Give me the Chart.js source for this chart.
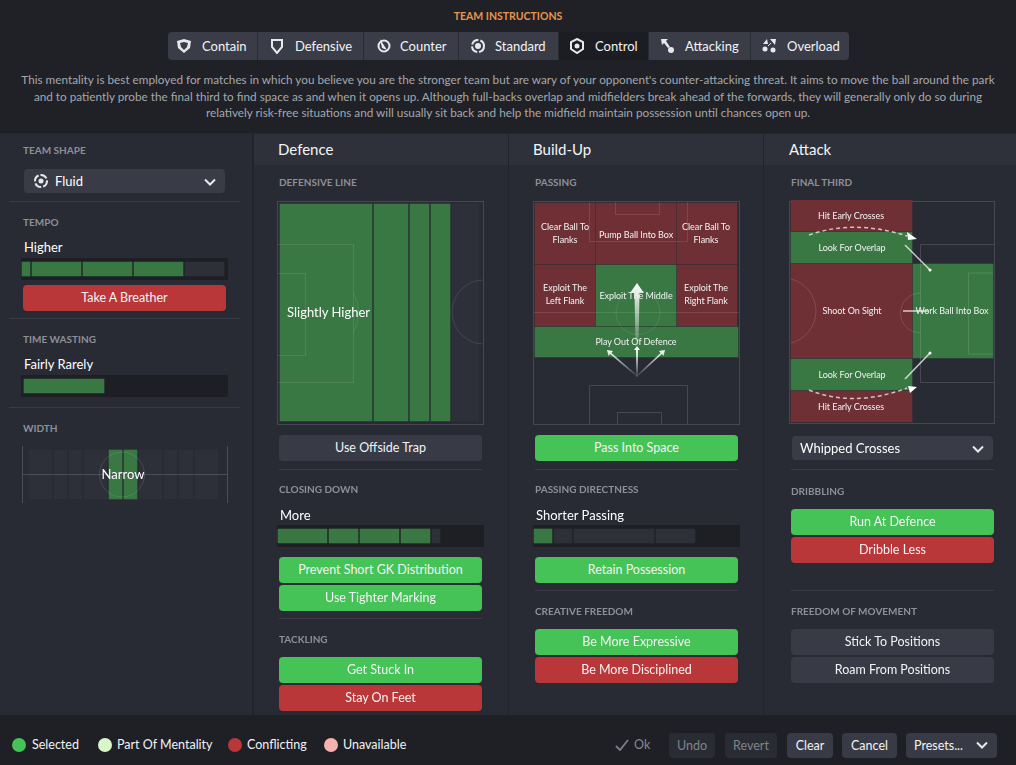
<!DOCTYPE html>
<html>
<head>
<meta charset="utf-8">
<title>Team Instructions</title>
<script src="https://cdn.jsdelivr.net/npm/chart.js@4"></script>
<style>
html, body { margin: 0; padding: 0; background: #1f2126; }
body { width: 1016px; height: 765px; overflow: hidden; position: relative; font-family: Lato, "Open Sans", sans-serif; color: #f2f3f5; }
.box, .txt, canvas, svg { position: absolute; display: block; }
.txt { white-space: nowrap; line-height: 16px; }
.sec { font-size: 10px; font-weight: 700; color: #8d9098; letter-spacing: 0; }
.val { font-size: 13px; color: #fff; }
.btn { position: absolute; border-radius: 4px; text-align: center; font-size: 12.5px; box-sizing: border-box; }
.zone { position: absolute; text-align: center; font-size: 9px; letter-spacing: -0.05px; line-height: 13px; color: #f1f3f2; transform: translate(-50%, -50%); white-space: nowrap; }
</style>
</head>
<body>
<script>
// slider values, in px of each 207 wide track
const tempoLabels = ['Lowest', 'Lower', 'Standard', 'Higher', 'Highest'];
const tempoStart = [1, 11, 62, 113, 164];
const tempoEnd = [9, 60, 111, 162, 203];
const tempoOn = [true, true, true, true, false];

const timeWastingStart = [3];
const timeWastingEnd = [83];
const timeWastingOn = [true];

const closingStart = [1, 52, 83, 124, 155];
const closingEnd = [50, 81, 122, 153, 163];
const closingOn = [true, true, true, true, false];

const directnessStart = [1, 21, 41, 123];
const directnessEnd = [19, 39, 121, 162];
const directnessOn = [true, false, false, false];

const widthStart = [7, 32, 47, 62, 87, 102, 117, 142, 157, 173];
const widthEnd = [30, 45, 60, 85, 100, 115, 140, 155, 171, 196];
const widthOn = [false, false, false, false, true, true, false, false, false, false];

const lineStart = [3, 97, 133, 154, 175];
const lineEnd = [95, 131, 152, 173, 202];
const lineOn = [true, true, true, true, false];

const passingZones = ['Clear Ball To<br>Flanks', 'Pump Ball Into Box', 'Clear Ball To<br>Flanks', 'Exploit The<br>Left Flank', 'Exploit The Middle', 'Exploit The<br>Right Flank', 'Play Out Of Defence'];
const passingFrom = [2, 63, 144, 2, 63, 144, 2];
const passingTo = [62, 143, 204, 62, 143, 204, 205];
const passingTop = [2, 2, 2, 64, 64, 64, 126];
const passingBottom = [63, 63, 63, 125, 125, 125, 156];
const passingOn = [false, false, false, false, true, false, true];

const finalZones = ['Hit Early Crosses', 'Look For Overlap', 'Shoot On Sight', 'Work Ball Into Box', 'Look For Overlap', 'Hit Early Crosses'];
const finalFrom = [2, 2, 2, 124, 2, 2];
const finalTo = [123, 123, 123, 204, 123, 123];
const finalTop = [0, 32, 64, 64, 159, 191];
const finalBottom = [31, 63, 158, 158, 190, 222];
const finalOn = [false, true, false, true, true, false];

const mentalities = ['Contain', 'Defensive', 'Counter', 'Standard', 'Control', 'Attacking', 'Overload'];
const legendNames = ['Selected', 'Part Of Mentality', 'Conflicting', 'Unavailable'];

const GREEN = '#397743', RED = '#6f3035', IDLE = '#2e3039', TRACK = '#1d1f24';
const BTN = { green: '#46c357', red: '#b93639', grey: '#383b45' };

function box(x, y, w, h, bg, extra) {
    const d = document.createElement('div');
    d.className = 'box';
    d.style.cssText = `left:${x}px;top:${y}px;width:${w}px;height:${h}px;background:${bg};${extra || ''}`;
    document.body.appendChild(d);
    return d;
}

function text(str, x, y, cls, extra) {
    const d = document.createElement('div');
    d.className = 'txt ' + (cls || '');
    d.style.cssText = `left:${x}px;top:${y - 8}px;${extra || ''}`;
    d.innerHTML = str;
    document.body.appendChild(d);
    return d;
}

function button(str, x, y, w, h, kind, extra) {
    const d = document.createElement('div');
    d.className = 'btn';
    d.style.cssText = `left:${x}px;top:${y}px;width:${w}px;height:${h}px;line-height:${h}px;background:${BTN[kind]};${extra || ''}`;
    d.textContent = str;
    document.body.appendChild(d);
    return d;
}

function chevron(x, y) {
    svg(x, y, 12, 8, '<path d="M1 1.5 L6 6.5 L11 1.5" fill="none" stroke="#e8e9ec" stroke-width="2"/>');
}

function svg(x, y, w, h, inner) {
    const s = document.createElementNS('http://www.w3.org/2000/svg', 'svg');
    s.setAttribute('width', w);
    s.setAttribute('height', h);
    s.setAttribute('viewBox', `0 0 ${w} ${h}`);
    s.style.left = x + 'px';
    s.style.top = y + 'px';
    s.innerHTML = inner;
    document.body.appendChild(s);
    return s;
}

// every bar on the page goes through here: floating horizontal bars on two linear scales
function rangeChart(x, y, w, h, bg, from, to, top, bottom, colors) {
    const c = document.createElement('canvas');
    c.style.cssText = `left:${x}px;top:${y}px;width:${w}px;height:${h}px;background:${bg};`;
    c.width = w;
    c.height = h;
    document.body.appendChild(c);
    new Chart(c, {
        type: 'bar',
        data: {
            datasets: from.map((f, i) => ({
                data: [{ x: [f, to[i]], y: (top[i] + bottom[i]) / 2 }],
                backgroundColor: colors[i],
                barThickness: bottom[i] - top[i],
                grouped: false,
                borderWidth: 0
            }))
        },
        options: {
            indexAxis: 'y',
            responsive: false,
            animation: false,
            layout: { padding: 0 },
            plugins: { legend: { display: false }, tooltip: { enabled: false } },
            scales: {
                x: { type: 'linear', min: 0, max: w, display: false },
                // bar charts switch offset on for the index axis, which squeezes a linear scale
                y: { type: 'linear', min: 0, max: h, reverse: true, offset: false, display: false }
            }
        }
    });
}

function slider(x, y, start, end, on) {
    const tops = start.map(() => 4);
    const bottoms = start.map(() => 18);
    rangeChart(x, y, 207, 22, TRACK, start, end, tops, bottoms, on.map(o => o ? GREEN : IDLE));
}

// panels
box(0, 133, 1016, 582, '#282b34');
box(254, 133, 762, 32, '#2e313a');
box(252, 133, 2, 582, '#22242b');
box(508, 133, 1, 582, '#22242b');
box(763, 133, 1, 582, '#22242b');
box(0, 715, 1016, 50, '#1e2025');
box(0, 133, 1016, 1, '#25272d');

// header
text('TEAM INSTRUCTIONS', 0, 16, '', 'width:1016px;text-align:center;font-size:10.5px;font-weight:700;color:#e8954b;');
box(168, 32, 681, 28, '#3a3d48', 'border-radius:4px;');
const tabEdges = [168, 258, 364, 459, 559, 649, 751, 849];
const tabText = [202, 295, 400, 495, 595, 685, 787];
const tabIcon = [184, 277, 384, 478, 577, 667, 769];
const tabGlyph = [
    '<path d="M8 1 L15 3 L14 10 L8 15 L2 10 L1 3 Z" fill="#e8e9ec"/><path d="M8 4 L12 5 L11 9 L8 12 L5 9 L4 5 Z" fill="#3a3d48"/>',
    '<path d="M3 2 L13 2 L13 9 L8 15 L3 9 Z" fill="none" stroke="#e8e9ec" stroke-width="2"/>',
    '<circle cx="8" cy="8" r="5.5" fill="none" stroke="#e8e9ec" stroke-width="2"/><path d="M4 1 L11 12 L6 10 Z" fill="#e8e9ec"/>',
    '<circle cx="8" cy="8" r="6" fill="none" stroke="#e8e9ec" stroke-width="2" stroke-dasharray="8 2"/><circle cx="8" cy="8" r="3" fill="#e8e9ec"/>',
    '<path d="M8 1 L14 4 L14 11 L8 15 L2 11 L2 4 Z" fill="none" stroke="#e8e9ec" stroke-width="2"/><circle cx="8" cy="8" r="2.5" fill="#e8e9ec"/>',
    '<path d="M2 1 L9 1 L7 3 L11 9 L9 10 L5 5 L3 7 Z" fill="#e8e9ec"/><circle cx="12" cy="12" r="3" fill="#e8e9ec"/>',
    '<circle cx="4" cy="11" r="2.5" fill="#e8e9ec"/><circle cx="12" cy="12" r="2.5" fill="#e8e9ec"/><path d="M2 6 L6 1 L7 6 Z M9 1 L15 1 L14 7 Z" fill="#e8e9ec"/><path d="M7 8 L10 5" stroke="#e8e9ec"/>'
];
mentalities.forEach((m, i) => {
    if (m === 'Control') box(tabEdges[i], 32, tabEdges[i + 1] - tabEdges[i], 28, '#1c1d22');
    if (i > 0) box(tabEdges[i] - 1, 32, 1, 28, '#2a2c34');
    text(m, tabText[i], 45.5, '', 'font-size:13px;color:#f2f3f5;');
    svg(tabIcon[i] - 8, 38, 16, 16, tabGlyph[i]);
});
const descLines = [
    "This mentality is best employed for matches in which you believe you are the stronger team but are wary of your opponent's counter-attacking threat. It aims to move the ball around the park",
    'and to patiently probe the final third to find space as and when it opens up. Although full-backs overlap and midfielders break ahead of the forwards, they will generally only do so during',
    'relatively risk-free situations and will usually sit back and help the midfield maintain possession until chances open up.'
];
const descY = [80, 97, 113];
descLines.forEach((l, i) => text(l, 0, descY[i], '', 'width:1016px;text-align:center;font-size:11.75px;color:#a4a8ae;'));

// left column
text('TEAM SHAPE', 23, 150, 'sec');
box(24, 169, 201, 24, '#393c47', 'border-radius:4px;');
svg(33, 173, 16, 16, '<circle cx="8" cy="8" r="6" fill="none" stroke="#e8e9ec" stroke-width="2" stroke-dasharray="7 2"/><circle cx="8" cy="8" r="2.5" fill="#e8e9ec"/>');
text('Fluid', 55, 181, 'val');
chevron(204, 178);
box(9, 201, 231, 1, '#383b45');
text('TEMPO', 23, 222, 'sec');
text('Higher', 24, 247, 'val');
slider(21, 258, tempoStart, tempoEnd, tempoOn);
button('Take A Breather', 23, 285, 203, 26, 'red');
box(9, 318, 231, 1, '#383b45');
text('TIME WASTING', 23, 339, 'sec');
text('Fairly Rarely', 24, 364, 'val');
slider(21, 375, timeWastingStart, timeWastingEnd, timeWastingOn);
box(9, 407, 231, 1, '#383b45');
text('WIDTH', 23, 428, 'sec');
rangeChart(22, 446, 206, 58, 'transparent', widthStart, widthEnd, widthStart.map(() => 4), widthStart.map(() => 53), widthOn.map(o => o ? GREEN : IDLE));
svg(22, 446, 206, 58, '<path d="M0.5 0 V57 M205.5 0 V57 M0 28.5 H206" stroke="#4a4d58" fill="none"/><circle cx="100" cy="28.5" r="22.5" fill="none" stroke="rgba(255,255,255,.12)"/>');
text('Narrow', 0, 474, 'val', 'left:22px;width:202px;text-align:center;');

// defence column
text('Defence', 278, 148.5, '', 'font-size:15px;color:#f4f5f6;');
text('DEFENSIVE LINE', 279, 182, 'sec');
const lineTop = lineStart.map(() => 3);
const lineBottom = lineStart.map(() => 220);
rangeChart(277, 201, 207, 224, 'transparent', lineStart, lineEnd, lineTop, lineBottom, lineOn.map(o => o ? GREEN : IDLE));
svg(277, 201, 207, 224, `<g fill="none" stroke="rgba(255,255,255,.11)">
<path d="M0 43.5 H76.5 V181.5 H0 M0 72.5 H28.5 V154.5 H0 M76.5 92 A 40 40 0 0 1 76.5 131"/><path d="M207 79 A 32 32 0 0 0 207 143"/></g>
<rect x=".5" y=".5" width="206" height="223" fill="none" stroke="#454853"/>`);
text('Slightly Higher', 287, 312, 'val');
button('Use Offside Trap', 279, 435, 203, 26, 'grey');
box(279, 469, 203, 1, '#383b45');
text('CLOSING DOWN', 279, 489, 'sec');
text('More', 280, 515, 'val');
slider(277, 525, closingStart, closingEnd, closingOn);
button('Prevent Short GK Distribution', 279, 557, 203, 26, 'green');
button('Use Tighter Marking', 279, 585, 203, 26, 'green');
box(279, 618, 203, 1, '#383b45');
text('TACKLING', 279, 639, 'sec');
button('Get Stuck In', 279, 657, 203, 26, 'green');
button('Stay On Feet', 279, 685, 203, 26, 'red');

// build-up column
text('Build-Up', 533, 148.5, '', 'font-size:15px;color:#f4f5f6;');
text('PASSING', 535, 182, 'sec');
rangeChart(533, 201, 207, 224, 'transparent', passingFrom, passingTo, passingTop, passingBottom, passingOn.map(o => o ? GREEN : RED));
svg(533, 201, 207, 224, `<defs><linearGradient id="up" x1="0" y1="1" x2="0" y2="0"><stop offset="0" stop-color="#fff" stop-opacity=".1"/><stop offset="1" stop-color="#fff"/></linearGradient>
<linearGradient id="fan" gradientUnits="userSpaceOnUse" x1="104" y1="176" x2="104" y2="148"><stop offset="0" stop-color="#fff" stop-opacity=".05"/><stop offset="1" stop-color="#fff"/></linearGradient></defs>
<g fill="none" stroke="rgba(255,255,255,.11)"><path d="M56.5 0 V40.5 H154.5 V0 M82.5 0 V13.5 H126.5 V0 M0 111.5 H207"/><circle cx="105" cy="111.5" r="22"/></g>
<g fill="none" stroke="#454853"><path d="M56.5 223 V184.5 H154.5 V223 M84.5 223 V211.5 H128.5 V223"/><rect x=".5" y=".5" width="206" height="223"/></g>
<path d="M102.5 145 L101.5 92 L97 92 L104 82 L111 92 L106.5 92 L105.5 145 Z" fill="url(#up)"/>
<path d="M103 176 L103 149 L101 149 L104 145 L107 149 L105 149 L105 176 Z" fill="url(#fan)"/>
<path d="M104 176 L77 153 L75.5 155 L74 149 L80 150 L78.5 152 L105 175 Z" fill="url(#fan)"/>
<path d="M104 176 L129 153 L130.5 155 L132 149 L126 150 L127.5 152 L103 175 Z" fill="url(#fan)"/>`);
const passingTextX = [32, 103, 173, 32, 103, 173, 103];
const passingTextY = [32, 32.5, 32, 93, 93.5, 93, 139.5];
passingZones.forEach((z, i) => {
    const d = document.createElement('div');
    d.className = 'zone';
    d.style.cssText = `left:${533 + passingTextX[i]}px;top:${201 + passingTextY[i]}px;`;
    d.innerHTML = z;
    document.body.appendChild(d);
});
button('Pass Into Space', 535, 435, 203, 26, 'green');
box(535, 469, 203, 1, '#383b45');
text('PASSING DIRECTNESS', 535, 489, 'sec');
text('Shorter Passing', 536, 515, 'val');
slider(533, 525, directnessStart, directnessEnd, directnessOn);
button('Retain Possession', 535, 557, 203, 26, 'green');
box(535, 590, 203, 1, '#383b45');
text('CREATIVE FREEDOM', 535, 611, 'sec');
button('Be More Expressive', 535, 629, 203, 26, 'green');
button('Be More Disciplined', 535, 657, 203, 26, 'red');

// attack column
text('Attack', 789, 148.5, '', 'font-size:15px;color:#f4f5f6;');
text('FINAL THIRD', 791, 182, 'sec');
svg(789, 201, 207, 224, '<rect x=".5" y=".5" width="205" height="222" fill="none" stroke="#454853"/><path d="M131.5 181.5 V43.5 H206 M131.5 181.5 H206" fill="none" stroke="#454853"/>');
rangeChart(789, 200, 207, 225, 'transparent', finalFrom, finalTo, finalTop, finalBottom, finalOn.map(o => o ? GREEN : RED));
svg(789, 200, 207, 225, `<g fill="none" stroke="rgba(255,255,255,.13)"><path d="M131.5 64 V158"/><path d="M179.5 73 V154 H204 M179.5 73 H204"/><path d="M2 79 A 33 33 0 0 1 2 143"/><path d="M131.5 93 A 20 20 0 0 0 131.5 133"/></g>
<g stroke="#fff" stroke-opacity=".7" stroke-width="1.5" fill="none" stroke-dasharray="4 3"><path d="M20 35 Q 65 19 118 36"/><path d="M20 190 Q 65 208 118 188"/></g>
<path d="M128 39 L118 32 L119 40 Z M128 187 L119 186 L121 193 Z" fill="#fff"/>
<g stroke="#fff" stroke-width="1.5" stroke-opacity=".75"><path d="M116 45 L141 70"/><path d="M116 179 L141 153"/><path d="M114 111 L139 111"/></g>
<circle cx="141" cy="70" r="1.5" fill="#fff"/><circle cx="141" cy="153" r="1.5" fill="#fff"/>`);
const finalTextY = [15, 47, 110, 110, 174, 206];
const finalTextX = [60, 61, 61, 161, 61, 60];
finalZones.forEach((z, i) => {
    const d = document.createElement('div');
    d.className = 'zone';
    d.style.cssText = `left:${791 + finalTextX[i]}px;top:${200 + finalTextY[i]}px;`;
    d.textContent = z;
    document.body.appendChild(d);
});
box(792, 436, 201, 24, '#393c47', 'border-radius:4px;');
text('Whipped Crosses', 800, 448, 'val');
chevron(972, 445);
box(791, 469, 203, 1, '#383b45');
text('DRIBBLING', 791, 491, 'sec');
button('Run At Defence', 791, 509, 203, 26, 'green');
button('Dribble Less', 791, 537, 203, 26, 'red');
box(791, 590, 203, 1, '#383b45');
text('FREEDOM OF MOVEMENT', 791, 611, 'sec');
button('Stick To Positions', 791, 629, 203, 26, 'grey');
button('Roam From Positions', 791, 657, 203, 26, 'grey');

// footer
const legendDots = ['#46c357', '#d9f6c9', '#b93639', '#f5b2b0'];
const legendDotX = [19, 105, 235, 331];
const legendTextX = [32, 117, 247, 343];
legendNames.forEach((n, i) => {
    box(legendDotX[i] - 7, 738, 14, 14, legendDots[i], 'border-radius:50%;');
    text(n, legendTextX[i], 745, '', 'font-size:12.5px;');
});
svg(615, 739, 14, 12, '<path d="M1 7 L5 11 L13 1" fill="none" stroke="#777a80" stroke-width="2"/>');
text('Ok', 634, 745, '', 'font-size:12.5px;color:#85888e;');
button('Undo', 669, 733, 46, 25, 'grey', 'background:#2a2c33;color:#80838a;');
button('Revert', 725, 733, 52, 25, 'grey', 'background:#2a2c33;color:#80838a;');
button('Clear', 787, 733, 46, 25, 'grey');
button('Cancel', 842, 733, 55, 25, 'grey');
button('Presets...', 906, 733, 91, 25, 'grey', 'text-align:left;padding-left:8px;');
chevron(976, 741);
</script>
</body>
</html>
